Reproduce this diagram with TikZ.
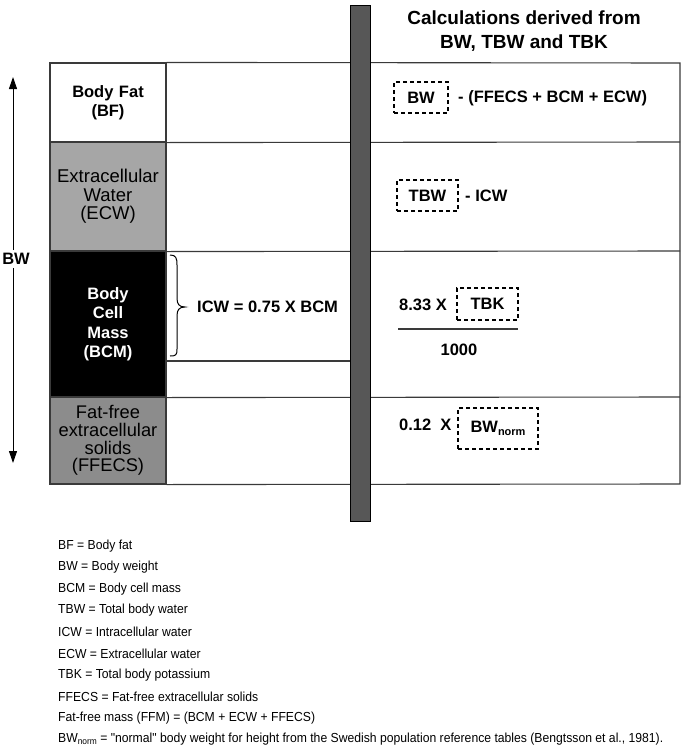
\documentclass[tikz,border=0pt]{standalone}
\usepackage{fontspec}
\setmainfont{Liberation Sans}
\newfontfamily\legendfont[FakeStretch=0.93]{Liberation Sans}
\usetikzlibrary{arrows.meta}
\definecolor{ecwgray}{HTML}{A6A6A6}
\definecolor{ffgray}{HTML}{8C8C8C}
\definecolor{bargray}{HTML}{575757}
\definecolor{linegray}{HTML}{3A3A3A}
\begin{document}
\begin{tikzpicture}[x=1pt,y=-1pt,
  tline/.style={draw=linegray,line width=1.1pt},
  cell/.style={draw=linegray,line width=1.1pt,minimum width=116pt,inner sep=0pt,align=center,text width=112pt},
  bfont/.style={font=\fontsize{16.5}{19.5}\selectfont\bfseries},
  dbox/.style={draw=black,dashed,dash pattern=on 4pt off 3pt,line width=1.2pt,inner sep=0pt,font=\fontsize{16.5}{19.5}\selectfont\bfseries},
  ftxt/.style={anchor=west,inner sep=0pt,font=\fontsize{16.5}{19.5}\selectfont\bfseries},
  legend/.style={anchor=west,inner sep=0pt,font=\legendfont\fontsize{13.1}{14}\selectfont},
  bwarrow/.style={line width=1pt,-{Triangle[width=8pt,length=12pt]}}
]
\useasboundingbox (0,0) rectangle (685,750);

% left column cells
\node[cell,fill=white,minimum height=79pt,bfont] (bf) at (108,102.5) {Body Fat\\(BF)};
\node[cell,fill=ecwgray,minimum height=109pt,font=\fontsize{18.5}{18.5}\selectfont] (ecw) at (108,196.5) {Extracellular\\Water\\(ECW)};
\node[cell,fill=black,minimum height=146pt,text=white,font=\fontsize{16.5}{19.5}\selectfont\bfseries] (bcm) at (108,324) {Body\\Cell\\Mass\\(BCM)};
\node[cell,fill=ffgray,minimum height=87pt,font=\fontsize{18.3}{17.8}\selectfont] (ffecs) at (108,440.5) {Fat-free\\extracellular\\solids\\(FFECS)};

% table lines
\coordinate (tr) at (680,63);
\coordinate (br) at (680,484);
\draw[tline] (bf.north east) -- (tr) -- (br) -- (ffecs.south east);
\draw[tline] (bf.south east) -- (680,142);
\draw[tline] (ecw.south east) -- (680,251);
\draw[tline] (bcm.south east) -- (680,397);
\draw[tline] (166,361) -- (352,361);

% vertical bar
\node[draw=black,line width=0.8pt,fill=bargray,minimum width=20pt,minimum height=516pt,inner sep=0pt] (bar) at (360,263.8) {};

% header
\node[align=center,font=\fontsize{19}{24.5}\selectfont\bfseries] (head) at (524,31) {Calculations derived from\\BW, TBW and TBK};

% BW arrow
\node[inner sep=0pt,font=\fontsize{16.5}{19.5}\selectfont\bfseries] (bw) at (16,259) {BW};
\coordinate (bwtop) at (13,77);
\coordinate (bwbot) at (13,463);
\draw[bwarrow] (13,250) -- (bwtop);
\draw[bwarrow] (13,268) -- (bwbot);

% brace and ICW
\node[ftxt] (icw) at (197,307) {ICW = 0.75 X BCM};
\draw[line width=1pt] (170,255) .. controls (176,255) and (177,258) .. (177,265) -- (177,298)
  .. controls (177,304) and (179,307) .. (185,307)
  .. controls (179,307) and (177,310) .. (177,316) -- (177,349)
  .. controls (177,355) and (176,356) .. (170,356);

% row 1
\node[dbox,minimum width=54pt,minimum height=31pt] (bwbox) at (421,97.5) {BW};
\node[ftxt] (f1) at (458,98) {- (FFECS + BCM + ECW)};
% row 2
\node[dbox,minimum width=61pt,minimum height=31pt] (tbwbox) at (427.5,195.5) {TBW};
\node[ftxt] (f2) at (465,196) {- ICW};
% row 3
\node[ftxt] (f3) at (399,305) {8.33 X};
\node[dbox,minimum width=61pt,minimum height=32pt] (tbkbox) at (487.5,304) {TBK};
\coordinate (fracl) at (398,329);
\coordinate (fracr) at (518,329);
\draw[line width=1.1pt,draw=linegray] (fracl) -- (fracr);
\node[inner sep=0pt,font=\fontsize{16.5}{19.5}\selectfont\bfseries] (thou) at (459,350) {1000};
% row 4
\node[ftxt] (f4) at (399,425) {0.12\ \ X};
\node[dbox,minimum width=80pt,minimum height=41pt] (bwnbox) at (498,428.5) {BW\raisebox{-0.35ex}{\fontsize{11}{11}\selectfont norm}};

% legend
\node[legend] (l1) at (58,546) {BF = Body fat};
\node[legend] (l2) at (58,567.5) {BW = Body weight};
\node[legend] (l3) at (58,589) {BCM = Body cell mass};
\node[legend] (l4) at (58,610.5) {TBW = Total body water};
\node[legend] (l5) at (58,632) {ICW = Intracellular water};
\node[legend] (l6) at (58,653.5) {ECW = Extracellular water};
\node[legend] (l7) at (58,675) {TBK = Total body potassium};
\node[legend] (l8) at (58,696.5) {FFECS = Fat-free extracellular solids};
\node[legend] (l9) at (58,718) {Fat-free mass (FFM) = (BCM + ECW + FFECS)};
\node[legend] (l10) at (58,739.5) {BW\raisebox{-0.3ex}{\fontsize{9}{9}\selectfont norm} = "normal" body weight for height from the Swedish population reference tables (Bengtsson et al., 1981).};
\end{tikzpicture}
\end{document}
